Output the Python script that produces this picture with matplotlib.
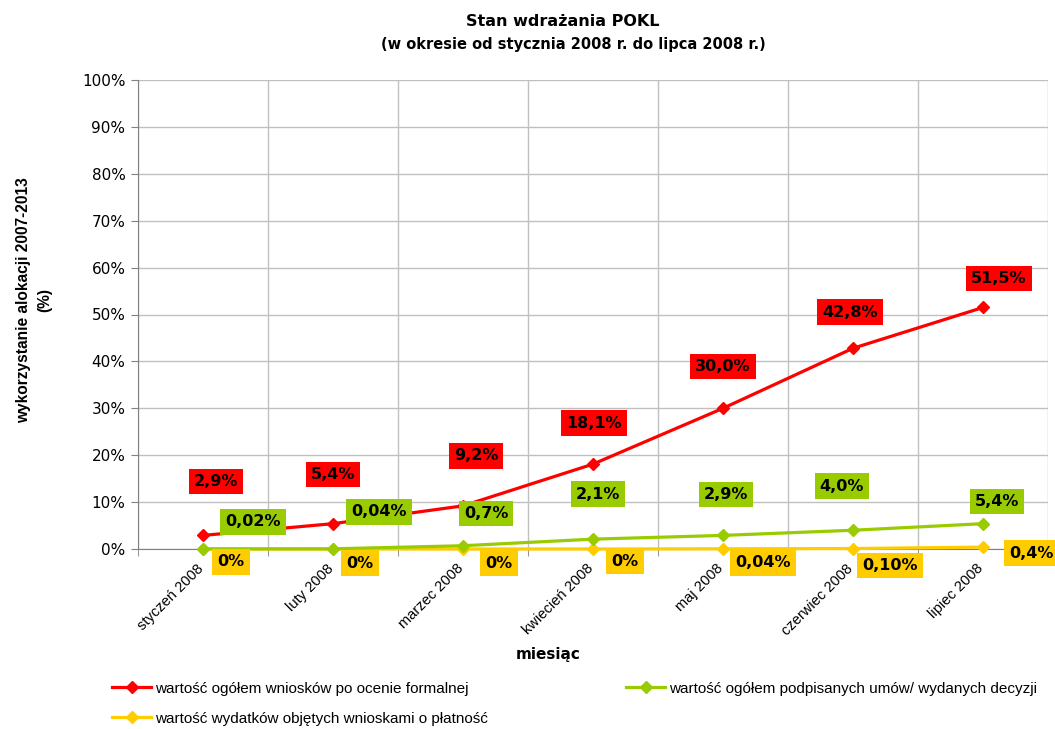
import matplotlib
matplotlib.use("Agg")
import matplotlib.pyplot as plt
import numpy as np

months = ["styczeń 2008", "luty 2008", "marzec 2008", "kwiecień 2008",
          "maj 2008", "czerwiec 2008", "lipiec 2008"]
wnioski = [2.9, 5.4, 9.2, 18.1, 30.0, 42.8, 51.5]
umowy = [0.02, 0.04, 0.7, 2.1, 2.9, 4.0, 5.4]
wydatki = [0.0, 0.0, 0.0, 0.0, 0.04, 0.10, 0.4]
wnioski_labels = ["2,9%", "5,4%", "9,2%", "18,1%", "30,0%", "42,8%", "51,5%"]
umowy_labels = ["0,02%", "0,04%", "0,7%", "2,1%", "2,9%", "4,0%", "5,4%"]
wydatki_labels = ["0%", "0%", "0%", "0%", "0,04%", "0,10%", "0,4%"]
y_ticks = list(range(0, 101, 10))

series_names = ["wartość ogółem wniosków po ocenie formalnej",
                "wartość ogółem podpisanych umów/ wydanych decyzji",
                "wartość wydatków objętych wnioskami o płatność"]

RED = "#ff0000"
GREEN = "#99cc00"
YELLOW = "#ffcc00"
NARROW = ["Liberation Sans", "DejaVu Sans"]

# label offsets in pixels (dx right, dy up) relative to each point
red_off = [(13, 54), (0, 49), (13, 50), (1, 41), (0, 42), (-3, 36), (16, 29)]
green_off = [(50, 27), (46, 37), (23, 32), (5, 45), (3, 41), (-11, 44), (14, 22)]
yellow_off = [(28, -13), (27, -14), (36, -14), (32, -12), (40, -14), (37, -17), (48, -6)]

fig = plt.figure(figsize=(10.55, 7.29), dpi=100)
ax = fig.add_axes([138 / 1055, 1 - 549 / 729, 910 / 1055, 469 / 729])

x = np.arange(len(months))
lines = {}
for vals, color, name in [(wydatki, YELLOW, series_names[2]),
                          (umowy, GREEN, series_names[1]),
                          (wnioski, RED, series_names[0])]:
    lines[name], = ax.plot(x, vals, color=color, lw=2.3, marker="D", ms=6.5,
                           markeredgecolor=color, label=name, zorder=3, clip_on=False)

ax.set_xlim(-0.5, len(months) - 0.5)
ax.set_ylim(0, 100)
ax.set_yticks(y_ticks)
ax.set_yticklabels([f"{v}%" for v in y_ticks], fontsize=11)
ax.set_xticks(x)
ax.set_xticklabels([])
ax.tick_params(axis="x", length=0)
# month labels, rotated, right end slightly left of and below each category centre
for xi, m in zip(x, months):
    ax.annotate(m, (xi, 0), xytext=(-5, -9), textcoords="offset points",
                rotation=45, ha="right", va="top", rotation_mode="anchor",
                fontsize=10.5, family=NARROW, annotation_clip=False)
ax.set_xticks(np.arange(len(months) + 1) - 0.5, minor=True)
ax.tick_params(axis="x", which="minor", length=5, color="#808080")
ax.tick_params(axis="y", length=5, color="#808080", pad=4)
ax.grid(True, axis="y", color="#c0c0c0", lw=1)
ax.grid(True, axis="x", which="minor", color="#c0c0c0", lw=1)
ax.set_axisbelow(True)
for side in ["top", "right"]:
    ax.spines[side].set_visible(False)
ax.spines["left"].set_color("#808080")
ax.spines["bottom"].set_color("#808080")

def add_labels(vals, labels, offs, color):
    for xi, v, lab, (dx, dy) in zip(x, vals, labels, offs):
        ax.annotate(lab, (xi, v), xytext=(dx * 0.72, dy * 0.72),
                    textcoords="offset points", ha="center", va="center",
                    fontsize=11.5, fontweight="bold", color="black", zorder=5,
                    bbox=dict(boxstyle="square,pad=0.33", fc=color, ec="none"),
                    annotation_clip=False)

add_labels(wnioski, wnioski_labels, red_off, RED)
add_labels(umowy, umowy_labels, green_off, GREEN)
add_labels(wydatki, wydatki_labels, yellow_off, YELLOW)

fig.text(563 / 1055, 1 - 22 / 729, "Stan wdrażania POKL",
         ha="center", va="center", fontsize=11.5, fontweight="bold")
fig.text(573 / 1055, 1 - 44 / 729, "(w okresie od stycznia 2008 r. do lipca 2008 r.)",
         ha="center", va="center", fontsize=10.5, fontweight="bold")
fig.text(34 / 1055, 1 - 300 / 729, "wykorzystanie alokacji 2007-2013\n(%)",
         ha="center", va="center", rotation=90, fontsize=11.2, fontweight="bold",
         family=NARROW, linespacing=1.5)
fig.text(548 / 1055, 1 - 654 / 729, "miesiąc", ha="center", va="center",
         fontsize=11, fontweight="bold")

leg_kw = dict(loc="upper left", frameon=False, handlelength=2.6, handletextpad=0.2,
              labelspacing=1.05, prop={"family": NARROW, "size": 11})
fig.legend([lines[series_names[0]], lines[series_names[2]]],
           [series_names[0], series_names[2]],
           bbox_to_anchor=(98 / 1055, 1 - 668 / 729), **leg_kw)
fig.legend([lines[series_names[1]]], [series_names[1]],
           bbox_to_anchor=(612 / 1055, 1 - 668 / 729), **leg_kw)

fig.savefig("out.png", dpi=100)
